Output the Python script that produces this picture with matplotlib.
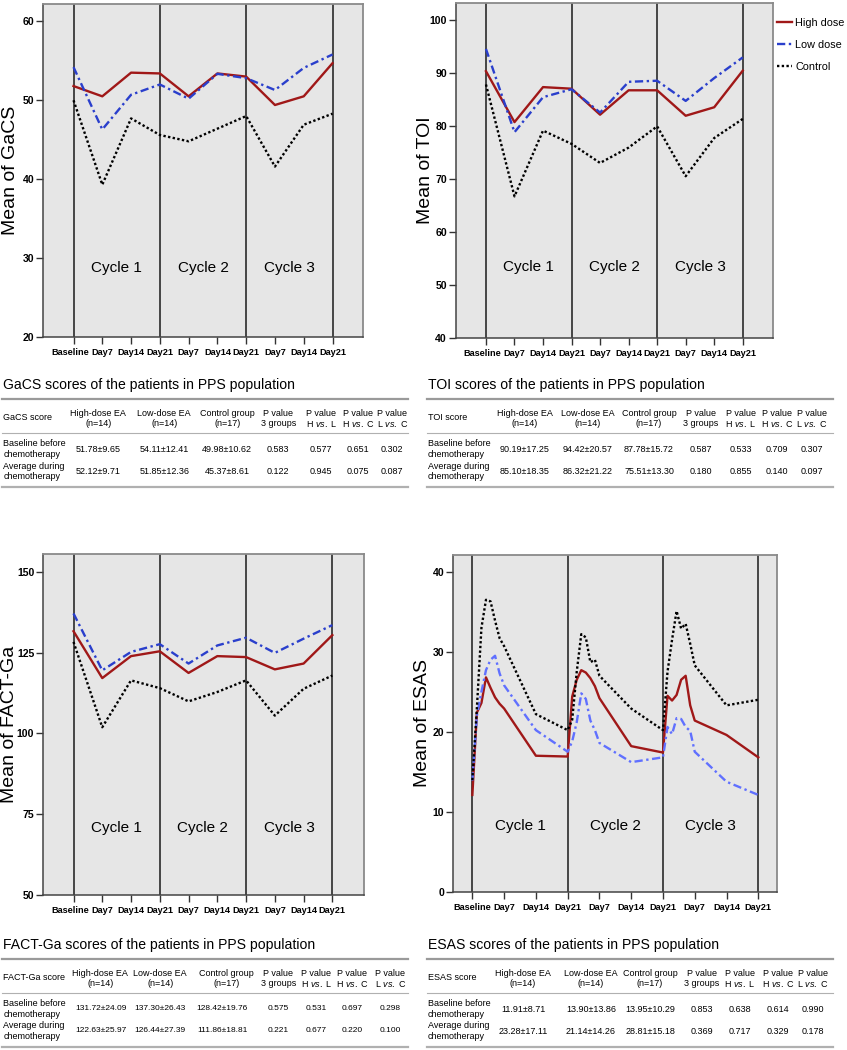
import matplotlib
matplotlib.use('Agg')
import matplotlib.pyplot as plt
from matplotlib.lines import Line2D
from matplotlib.transforms import ScaledTranslation

plt.rcParams['font.family'] = ['Liberation Sans', 'DejaVu Sans']
plt.rcParams['mathtext.fontset'] = 'custom'
plt.rcParams['mathtext.it'] = 'Liberation Sans:italic'
plt.rcParams['mathtext.rm'] = 'Liberation Sans'

# ---- data ----
tick_labels = ['Baseline', 'Day7', 'Day14', 'Day21', 'Day7', 'Day14', 'Day21', 'Day7', 'Day14', 'Day21']
visits = list(range(10))

gacs_high = [51.8, 50.5, 53.5, 53.4, 50.5, 53.4, 53.0, 49.4, 50.5, 54.7]
gacs_low = [54.2, 46.3, 50.7, 52.0, 50.2, 53.35, 52.8, 51.3, 54.1, 55.8]
gacs_ctrl = [50.0, 39.3, 47.7, 45.6, 44.8, 46.4, 48.0, 41.6, 46.9, 48.3]

toi_high = [90.3, 80.7, 87.3, 87.0, 82.1, 86.7, 86.7, 81.9, 83.5, 90.4]
toi_low = [94.5, 78.8, 85.4, 86.9, 82.5, 88.3, 88.5, 84.7, 89.0, 92.9]
toi_ctrl = [87.8, 66.7, 79.1, 76.6, 73.0, 75.9, 79.9, 70.5, 77.7, 81.3]

fact_high = [131.6, 117.1, 123.9, 125.4, 118.7, 123.9, 123.6, 119.8, 121.6, 130.4]
fact_low = [137.1, 119.5, 125.2, 127.6, 121.6, 127.2, 129.6, 124.9, 129.3, 133.5]
fact_ctrl = [128.3, 101.9, 116.4, 114.0, 109.9, 112.8, 116.4, 105.5, 113.8, 117.9]

# ESAS was recorded daily in the first week of each cycle
esas_days = [0, 1, 2, 3, 4, 5, 6, 7, 14, 21,
             22, 23, 24, 25, 26, 27, 28, 35, 42,
             43, 44, 45, 46, 47, 48, 49, 56, 63]
esas_high = [12.1, 22.4, 23.6, 26.8, 25.5, 24.3, 23.5, 22.9, 17.0, 16.9,
             24.4, 26.5, 27.7, 27.4, 26.7, 25.7, 24.2, 18.2, 17.4,
             24.5, 23.9, 24.6, 26.5, 27.0, 23.3, 21.4, 19.6, 16.8]
esas_low = [13.9, 22.0, 25.0, 27.7, 29.0, 29.5, 27.3, 25.8, 20.2, 17.5,
            18.8, 21.2, 24.8, 24.1, 21.4, 20.2, 18.6, 16.2, 16.8,
            20.6, 19.7, 21.7, 21.6, 20.6, 20.1, 17.5, 13.75, 12.1]
esas_ctrl = [13.95, 23.0, 33.0, 36.5, 36.3, 33.9, 31.7, 30.7, 22.2, 20.2,
             21.5, 27.5, 32.2, 31.8, 28.7, 29.0, 27.0, 22.9, 20.2,
             27.5, 31.5, 35.1, 32.9, 33.5, 31.0, 28.3, 23.3, 24.0]

table_groups = [('High-dose EA', '(n=14)'), ('Low-dose EA', '(n=14)'), ('Control group', '(n=17)'),
                ('P value', '3 groups'), ('P value', r'H $\it{vs.}$ L'),
                ('P value', r'H $\it{vs.}$ C'), ('P value', r'L $\it{vs.}$ C')]
row_names = [('Baseline before', 'chemotherapy'), ('Average during', 'chemotherapy')]

gacs_table = [['51.78±9.65', '54.11±12.41', '49.98±10.62', '0.583', '0.577', '0.651', '0.302'],
              ['52.12±9.71', '51.85±12.36', '45.37±8.61', '0.122', '0.945', '0.075', '0.087']]
toi_table = [['90.19±17.25', '94.42±20.57', '87.78±15.72', '0.587', '0.533', '0.709', '0.307'],
             ['85.10±18.35', '86.32±21.22', '75.51±13.30', '0.180', '0.855', '0.140', '0.097']]
fact_table = [['131.72±24.09', '137.30±26.43', '128.42±19.76', '0.575', '0.531', '0.697', '0.298'],
              ['122.63±25.97', '126.44±27.39', '111.86±18.81', '0.221', '0.677', '0.220', '0.100']]
esas_table = [['11.91±8.71', '13.90±13.86', '13.95±10.29', '0.853', '0.638', '0.614', '0.990'],
              ['23.28±17.11', '21.14±14.26', '28.81±15.18', '0.369', '0.717', '0.329', '0.178']]

W, H = 847, 1050
fig = plt.figure(figsize=(W / 100, H / 100), dpi=100)

RED = '#a01818'


def fx(x):
    return x / W


def fy(y):
    return 1 - y / H


def chart(box, x, high, low, ctrl, xlim, ylim, yticks, ylabel, low_color, cycle_y, lab_x, shift_base):
    l, t, r, b = box
    ax = fig.add_axes([fx(l), fy(b), (r - l) / W, (b - t) / H])
    ax.set_facecolor('#e6e6e6')
    for v in [0, 3, 6, 9]:
        ax.axvline(v, color='#1a1a1a', lw=1.1, zorder=1)
    ax.plot(x, high, color=RED, lw=1.7, label='High dose', zorder=3)
    ax.plot(x, low, color=low_color, lw=1.7, ls=(0, (3.5, 1.5, 1, 1.5)), label='Low dose', zorder=3)
    ax.plot(x, ctrl, color='black', lw=1.7, ls=(0, (1, 1)), label='Control', zorder=3)
    for i, c in enumerate(['Cycle 1', 'Cycle 2', 'Cycle 3']):
        ax.text(1.5 + 3 * i, cycle_y, c, ha='center', va='center', fontsize=11,
                transform=ax.get_xaxis_transform())
    ax.set_xlim(*xlim)
    ax.set_ylim(*ylim)
    ax.set_xticks(visits)
    ax.set_xticklabels(tick_labels)
    ax.set_yticks(yticks)
    ax.tick_params(axis='both', length=5, width=1, color='#333333')
    ax.tick_params(axis='x', pad=3, labelsize=6.6)
    ax.tick_params(axis='y', pad=1.5, labelsize=7.6)
    for lab in ax.get_xticklabels() + ax.get_yticklabels():
        lab.set_fontweight('bold')
    if shift_base:
        base = ax.get_xticklabels()[0]
        base.set_transform(base.get_transform() + ScaledTranslation(-3.5 / 100, 0, fig.dpi_scale_trans))
    for s in ['top', 'right']:
        ax.spines[s].set_color('#8a8a8a')
        ax.spines[s].set_linewidth(1.3)
    for s in ['left', 'bottom']:
        ax.spines[s].set_color('#444444')
        ax.spines[s].set_linewidth(1.1)
    ax.set_ylabel(ylabel, fontsize=14, va='center')
    ax.yaxis.set_label_coords((lab_x - l) / (r - l), 0.5)
    return ax


def hline(x0, x1, y, lw, color):
    fig.add_artist(Line2D([fx(x0), fx(x1)], [fy(y), fy(y)], lw=lw, color=color,
                          transform=fig.transFigure))


def table(x0, yt, name, rows, cols, vcols=None, vfs=6.5):
    fs = 6.5
    vcols = vcols or cols
    fig.text(fx(x0), fy(yt), name + ' scores of the patients in PPS population', fontsize=10.1,
             ha='left', va='center')
    hline(x0 - 1, x0 + 405, yt + 14, 1.6, '#9a9a9a')
    fig.text(fx(x0), fy(yt + 33), name + ' score', fontsize=fs, ha='left', va='center')
    for (a, b), cx in zip(table_groups, cols):
        fig.text(fx(x0 + cx), fy(yt + 28), a, fontsize=fs, ha='center', va='center')
        fig.text(fx(x0 + cx), fy(yt + 39), b, fontsize=fs, ha='center', va='center')
    hline(x0 - 1, x0 + 405, yt + 48, 0.8, '#b0b0b0')
    for k, (row, (n1, n2)) in enumerate(zip(rows, row_names)):
        yc = yt + 64 + 22 * k
        fig.text(fx(x0), fy(yc - 5), n1, fontsize=fs, ha='left', va='center')
        fig.text(fx(x0), fy(yc + 5.5), n2, fontsize=fs, ha='left', va='center')
        for v, cx in zip(row, vcols):
            fig.text(fx(x0 + cx), fy(yc), v, fontsize=vfs, ha='center', va='center')
    hline(x0 - 1, x0 + 405, yt + 101.5, 1.6, '#b0b0b0')


days_as_visits = [d / 7 for d in esas_days]

chart((43.3, 4, 363.3, 337), visits, gacs_high, gacs_low, gacs_ctrl, (-1.05, 10.07), (20, 62.2),
      [20, 30, 40, 50, 60], 'Mean of GaCS', '#2a3fcc', 0.207, 11, True)
ax_toi = chart((456, 3.3, 772.7, 338), visits, toi_high, toi_low, toi_ctrl, (-1.05, 10.05), (40, 103.1),
               [40, 50, 60, 70, 80, 90, 100], 'Mean of TOI', '#2a3fcc', 0.213, 425, True)
chart((43.3, 554.3, 364, 895), visits, fact_high, fact_low, fact_ctrl, (-1.05, 10.1), (50, 155.4),
      [50, 75, 100, 125, 150], 'Mean of FACT-Ga', '#2a3fcc', 0.196, 10, True)
chart((453.3, 555, 776.7, 891.7), days_as_visits, esas_high, esas_low, esas_ctrl, (-0.6, 9.58), (0, 42.1),
      [0, 10, 20, 30, 40], 'Mean of ESAS', '#6070ff', 0.195, 422, False)

handles, labels = ax_toi.get_legend_handles_labels()
fig.legend(handles, labels, loc='upper left', bbox_to_anchor=(fx(777), fy(18)), frameon=False,
           fontsize=7.8, handlelength=1.4, handletextpad=0.3, labelspacing=1.1,
           borderaxespad=0, borderpad=0)

table(3.3, 385, 'GaCS', gacs_table, [95, 161, 224, 275, 318, 355, 389])
table(428, 385, 'TOI', toi_table, [97, 160, 221, 273, 313, 349, 384])
table(3.3, 945, 'FACT-Ga', fact_table, [97, 157, 223, 275, 313, 349, 387],
      [98, 157, 219, 275, 313, 349, 387], vfs=6.0)
table(428, 945, 'ESAS', esas_table, [95, 163, 222, 274, 312, 350, 385])

fig.savefig('out.png', dpi=100)
